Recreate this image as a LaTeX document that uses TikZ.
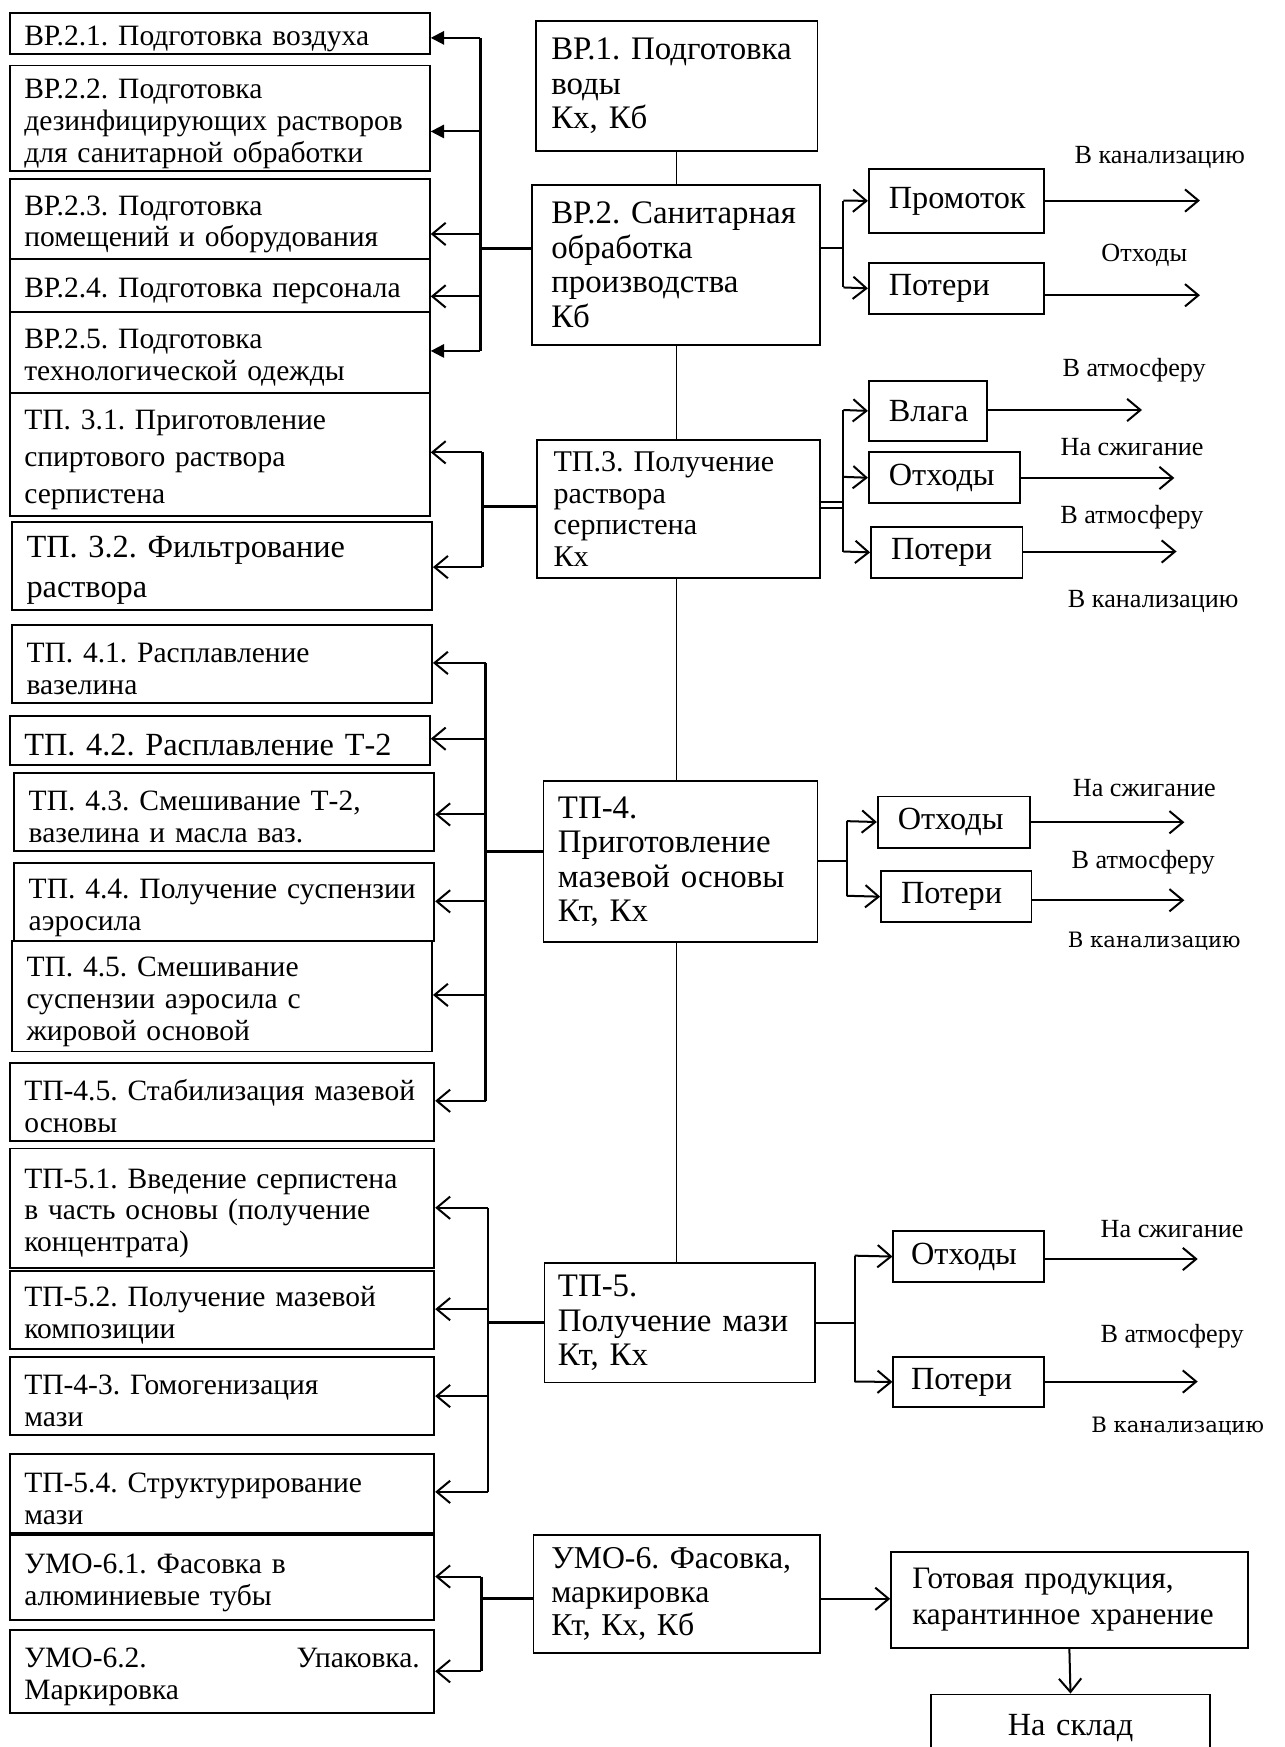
\documentclass[tikz,border=0pt]{standalone}
\usepackage{fontspec}
\setmainfont{Liberation Serif}
\newfontfamily\pastefont{DejaVu Serif}
\frenchspacing
\usetikzlibrary{arrows.meta}

\tikzset{
  blk/.style={draw, line width=1.6pt, anchor=north west, align=left,
    inner ysep=0pt, inner xsep=13pt, font=\fontsize{26.5}{28.5}\selectfont},
  subA/.style={blk, text width=351pt, execute at begin node={\rule{0pt}{27pt}}},
  subB/.style={subA, text width=355pt},
  stage/.style={blk, font=\fontsize{29.5}{31}\selectfont},
  waste/.style={blk, inner xsep=18pt, font=\fontsize{29}{30}\selectfont},
  dest/.style={font=\fontsize{23.5}{26}\selectfont},
  bus/.style={line width=2.6pt},
  link/.style={line width=1.8pt},
  trunk/.style={line width=1.4pt},
  arr/.style={link, -{Straight Barb[length=12pt,width=20pt,line width=1.8pt]}},
  farr/.style={link, -{Triangle[length=12pt,width=12pt]}},
}

\begin{document}
\begin{tikzpicture}[x=1pt, y=-1pt]
   \useasboundingbox (0,0) rectangle (1153,1568);
   % Stages
   \node[stage, inner xsep=14pt, text width=225pt, minimum height=117pt] (bp1) at (480,18) {ВР.1. Подготовка\\воды\\Кх, Кб};
   \node[stage, inner xsep=17pt, text width=224pt, minimum height=144pt] (bp2) at (477,165) {ВР.2. Санитарная\\обработка\\производства\\Кб};
   \node[stage, inner xsep=15pt, text width=224pt, minimum height=124pt, font=\fontsize{27}{28.5}\selectfont] (tp3) at (481,394) {ТП.3. Получение\\раствора\\серпистена\\Кх};
   \node[stage, inner xsep=13pt, text width=220pt, minimum height=145pt] (tp4) at (487,700) {ТП-4.\\Приготовление\\мазевой основы\\Кт, Кх};
   \node[stage, inner xsep=12pt, text width=219pt, minimum height=107pt] (tp5) at (488,1133) {ТП-5.\\Получение мази\\Кт, Кх};
   \node[stage, inner xsep=16pt, text width=225pt, minimum height=106pt, font=\fontsize{28.5}{30}\selectfont] (umo6) at (478,1377) {УМО-6. Фасовка,\\маркировка\\Кт, Кх, Кб};
   % Trunk
   \coordinate (tr) at (607,0);
   \draw[trunk] (bp1.south -| tr) -- (bp2.north -| tr);
   \draw[trunk] (bp2.south -| tr) -- (tp3.north -| tr);
   \draw[trunk] (tp3.south -| tr) -- (tp4.north -| tr);
   \draw[trunk] (tp4.south -| tr) -- (tp5.north -| tr);

   % Sub-operations
   \node[subA, minimum height=37pt] (b21) at (8,11) {ВР.2.1. Подготовка воздуха};
   \node[subA, minimum height=95pt] (b22) at (8,58) {ВР.2.2. Подготовка\\дезинфицирующих растворов\\для санитарной обработки};
   \node[subA, minimum height=72pt] (b23) at (8,160) {ВР.2.3. Подготовка\\помещений и оборудования};
   \node[subA, minimum height=47pt] (b24) at (8,232) {ВР.2.4. Подготовка персонала};
   \node[subA, minimum height=73pt] (b25) at (8,279) {ВР.2.5. Подготовка\\технологической одежды};
   \node[subA, minimum height=110pt, font=\fontsize{26.5}{33}\selectfont] (t31) at (8,352) {ТП. 3.1. Приготовление\\спиртового раствора\\серпистена};
   \node[subA, minimum height=79pt, font=\fontsize{29}{36}\selectfont] (t32) at (10,468) {ТП. 3.2. Фильтрование\\раствора};
   \node[subA, minimum height=70pt] (t41) at (10,560) {ТП. 4.1. Расплавление\\вазелина};
   \node[subA, minimum height=44pt, font=\fontsize{29}{30}\selectfont] (t42) at (8,642) {ТП. 4.2. Расплавление Т-2};
   \node[subA, minimum height=70pt] (t43) at (12,693) {ТП. 4.3. Смешивание Т-2,\\вазелина и масла ваз.};
   \node[subA, minimum height=70pt] (t44) at (12,774) {ТП. 4.4. Получение суспензии\\аэросила};
   \node[subA, minimum height=99pt] (t45) at (10,844) {ТП. 4.5. Смешивание\\суспензии аэросила с\\жировой основой};
   \node[subB, minimum height=70pt] (t45s) at (8,953) {ТП-4.5. Стабилизация мазевой\\основы};
   \node[subB, minimum height=107pt] (t51) at (8,1030) {ТП-5.1. Введение серпистена\\в часть основы (получение\\концентрата)};
   \node[subB, minimum height=70pt] (t52) at (8,1140) {ТП-5.2. Получение мазевой\\композиции};
   \node[subB, minimum height=70pt] (t43b) at (8,1217) {ТП-4-3. Гомогенизация\\мази};
   \node[subB, minimum height=71pt] (t54) at (8,1304) {ТП-5.4. Структурирование\\мази};
   \node[subB, minimum height=76pt] (u61) at (8,1377) {УМО-6.1. Фасовка в\\алюминиевые тубы};
   \node[subB, minimum height=75pt] (u62) at (8,1462) {УМО-6.2.\hfill Упаковка.\\Маркировка};

   % Buses
   \draw[bus] (431,34) -- (431,315);
   \draw[bus] (bp2.west |- 0,223) -- (431,223);
   \foreach \n/\y/\tip in {b21/34/farr, b22/118/farr, b23/210/arr, b24/266/arr, b25/315/farr}
     \draw[\tip] (431,\y) -- (\n.east |- 0,\y);
   \draw[bus] (433,406) -- (433,509);
   \draw[bus] (tp3.west |- 0,455) -- (433,455);
   \foreach \n/\y in {t31/406, t32/509}
     \draw[arr] (433,\y) -- (\n.east |- 0,\y);
   \draw[bus] (436,595) -- (436,988);
   \draw[bus] (tp4.west |- 0,764) -- (436,764);
   \foreach \n/\y in {t41/595, t42/663, t43/731, t44/809, t45/893, t45s/988}
     \draw[arr] (436,\y) -- (\n.east |- 0,\y);
   \draw[bus] (438,1084) -- (438,1339);
   \draw[bus] (tp5.west |- 0,1187) -- (438,1187);
   \foreach \n/\y in {t51/1084, t52/1175, t43b/1253, t54/1339}
     \draw[arr] (438,\y) -- (\n.east |- 0,\y);
   \draw[bus] (432,1415) -- (432,1500);
   \draw[bus] (umo6.west |- 0,1435) -- (432,1435);
   \foreach \n/\y in {u61/1415, u62/1500}
     \draw[arr] (432,\y) -- (\n.east |- 0,\y);

   % Waste boxes
   \node[waste, text width=121pt, minimum height=57pt] (prom) at (779,151) {Промоток};
   \node[waste, text width=121pt, minimum height=46pt] (pot2) at (779,235) {Потери};
   \node[waste, text width=70pt, minimum height=54pt] (vlag) at (779,341) {Влага};
   \node[waste, text width=100pt, minimum height=46pt] (otx3) at (779,405) {Отходы};
   \node[waste, text width=100pt, minimum height=46pt] (pot3) at (781,472) {Потери};
   \node[waste, text width=101pt, minimum height=46pt] (otx4) at (787,714) {Отходы};
   \node[waste, text width=99pt, minimum height=46pt] (pot4) at (790,781) {Потери};
   \node[waste, inner xsep=16pt, text width=103pt, minimum height=46pt] (otx5) at (801,1104) {Отходы};
   \node[waste, inner xsep=16pt, text width=103pt, minimum height=45pt] (pot5) at (801,1217) {Потери};
   \node[waste, inner xsep=19pt, text width=282pt, minimum height=86pt, font=\fontsize{28}{32}\selectfont] (gotov) at (799,1392) {Готовая продукция,\\карантинное~хранение};
   \node[waste, align=center, text width=214pt, minimum height=60pt] (sklad) at (835,1520) {На склад};

   % Branches
   \draw[link] (bp2.east |- 0,223) -- (757,223);
   \draw[link] (757,180) -- (757,258);
   \draw[arr] (757,180) -- (prom.west);
   \draw[arr] (757,258) -- (pot2.west);
   \draw[link] (tp3.east |- 0,451) -- (757,451);
   \draw[link] (tp3.east |- 0,456) -- (757,456);
   \draw[link] (757,368) -- (757,495);
   \draw[arr] (757,368) -- (vlag.west);
   \draw[arr] (757,428) -- (otx3.west);
   \draw[arr] (757,495) -- (pot3.west);
   \draw[link] (tp4.east |- 0,773) -- (760,773);
   \draw[link] (760,737) -- (760,804);
   \draw[arr] (760,737) -- (otx4.west);
   \draw[arr] (760,804) -- (pot4.west);
   \draw[link] (tp5.east |- 0,1187) -- (767,1187);
   \draw[link] (767,1127) -- (767,1240);
   \draw[arr] (767,1127) -- (otx5.west);
   \draw[arr] (767,1240) -- (pot5.west);
   \draw[arr] (umo6.east |- 0,1435) -- (gotov.west |- 0,1435);
   \draw[arr] (gotov.south) -- (sklad.north);

   % Outlets
   \coordinate (e1) at (1077,180);
   \coordinate (e2) at (1077,265);
   \coordinate (e3) at (1025,368);
   \coordinate (e4) at (1054,429);
   \coordinate (e5) at (1056,495);
   \coordinate (e6) at (1063,738);
   \coordinate (e7) at (1063,808);
   \coordinate (e8) at (1075,1130);
   \coordinate (e9) at (1075,1240);
   \draw[arr] (prom.east |- e1) -- (e1);
   \draw[arr] (pot2.east |- e2) -- (e2);
   \draw[arr] (vlag.east |- e3) -- (e3);
   \draw[arr] (otx3.east |- e4) -- (e4);
   \draw[arr] (pot3.east |- e5) -- (e5);
   \draw[arr] (otx4.east |- e6) -- (e6);
   \draw[arr] (pot4.east |- e7) -- (e7);
   \draw[arr] (otx5.east |- e8) -- (e8);
   \draw[arr] (pot5.east |- e9) -- (e9);

   % Destinations
   \node[dest] (d1) at (1041,141) {В канализацию};
   \node[dest] (d2) at (1027,229) {Отходы};
   \node[dest] (d3) at (1018,332) {В атмосферу};
   \node[dest] (d4) at (1016,401) {На сжигание};
   \node[dest] (d5) at (1016,464) {В атмосферу};
   \node[dest] (d6) at (1035,540) {В канализацию};
   \node[dest] (d7) at (1027,707) {На сжигание};
   \node[dest] (d8) at (1026,774) {В атмосферу};
   \node[dest, font=\pastefont\fontsize{19}{22}\selectfont] (d9) at (1036,845) {В канализацию};
   \node[dest] (d10) at (1052,1103) {На сжигание};
   \node[dest] (d11) at (1052,1199) {В атмосферу};
   \node[dest, font=\pastefont\fontsize{19}{22}\selectfont] (d12) at (1057,1280) {В канализацию};
\end{tikzpicture}
\end{document}
